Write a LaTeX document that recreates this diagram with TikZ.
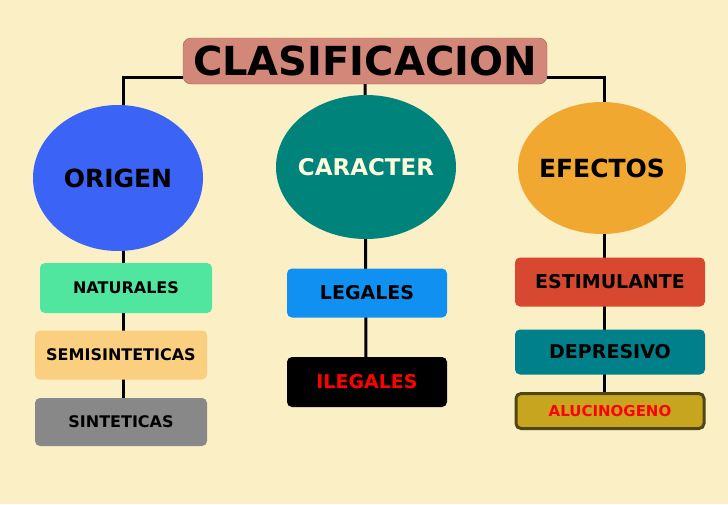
\documentclass[tikz,border=0pt]{standalone}
\usepackage{fontspec}
\setmainfont{DejaVu Sans}
\begin{document}
\begin{tikzpicture}[x=1pt,y=-1pt,
  ell/.style={ellipse,draw=none,inner sep=0pt},
  etxt/.style={font=\bfseries\fontsize{25}{28}\selectfont},
  box/.style={rounded corners=5pt,draw=none,inner sep=0pt,font=\bfseries\fontsize{16}{19}\selectfont},
  ln/.style={line width=3pt}]
\usetikzlibrary{shapes.geometric}
\fill[fill={rgb,255:red,251;green,239;blue,198}] (0,0) rectangle (728,504);
\useasboundingbox (0,0) rectangle (728,504);
\coordinate (lt) at (123,77); \coordinate (rt) at (604,77);
\coordinate (lb) at (123,420); \coordinate (cb) at (366,382); \coordinate (rb) at (604,415);
\node[fill={rgb,255:red,210;green,135;blue,120},rounded corners=8pt,minimum width=364,minimum height=46,draw={rgb,255:red,150;green,100;blue,90}] (t) at (365,61) {};
\draw[ln] (t.west|-lt) -- (lt) -- (lb);
\draw[ln] (t.east|-rt) -- (rt) -- (rb);
\draw[ln] (t.south) -- (cb);
\node[font=\bfseries\fontsize{40}{44}\selectfont] (tt) at (t) {CLASIFICACION};
\node[ell,fill={rgb,255:red,59;green,99;blue,245},minimum width=170,minimum height=146] (o) at (118,178) {};
\node[etxt] (ot) at (o) {ORIGEN};
\node[ell,fill={rgb,255:red,0;green,131;blue,122},minimum width=180,minimum height=144] (c) at (366,167) {};
\node[etxt,text={rgb,255:red,255;green,255;blue,220},font=\bfseries\fontsize{23}{26}\selectfont] (ct) at (c) {CARACTER};
\node[ell,fill={rgb,255:red,240;green,168;blue,48},minimum width=168,minimum height=132] (e) at (602,168) {};
\node[etxt] (et) at (e) {EFECTOS};
\node[box,fill={rgb,255:red,80;green,230;blue,160},minimum width=172,minimum height=50] (n) at (126,288) {NATURALES};
\node[box,fill={rgb,255:red,250;green,208;blue,128},minimum width=172,minimum height=49] (s1) at (121,355) {SEMISINTETICAS};
\node[box,fill={rgb,255:red,136;green,136;blue,136},minimum width=172,minimum height=48] (s2) at (121,422) {SINTETICAS};
\node[box,fill={rgb,255:red,16;green,144;blue,240},minimum width=160,minimum height=49,font=\bfseries\fontsize{19}{22}\selectfont] (l) at (367,293) {LEGALES};
\node[box,fill=black,text=red,minimum width=160,minimum height=50,font=\bfseries\fontsize{19}{22}\selectfont] (i) at (367,382) {ILEGALES};
\node[box,fill={rgb,255:red,216;green,72;blue,48},minimum width=190,minimum height=49,font=\bfseries\fontsize{19}{22}\selectfont] (es) at (610,282) {ESTIMULANTE};
\node[box,fill={rgb,255:red,0;green,128;blue,138},minimum width=190,minimum height=45,font=\bfseries\fontsize{19}{22}\selectfont] (d) at (610,352) {DEPRESIVO};
\node[box,fill={rgb,255:red,200;green,165;blue,30},draw={rgb,255:red,80;green,70;blue,20},line width=3pt,text=red,minimum width=188,minimum height=35,font=\bfseries\fontsize{15}{18}\selectfont] (a) at (610,411) {ALUCINOGENO};
\end{tikzpicture}
\end{document}
